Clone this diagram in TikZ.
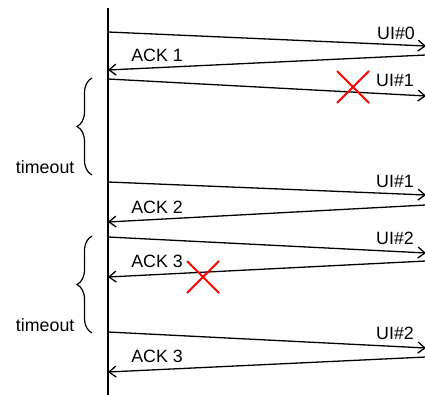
\documentclass[tikz,border=0pt]{standalone}
\usepackage{fontspec}
\setmainfont{Liberation Sans}
\usetikzlibrary{arrows.meta,decorations.pathreplacing,positioning}

\begin{document}
\begin{tikzpicture}[x=1pt,y=-1pt,line width=1.3pt,
  msg/.style={-{Straight Barb[length=7pt,width=11pt]}},
  lbl/.style={inner sep=0pt,font=\fontsize{17.8}{20}\selectfont},
  tbrace/.style={line width=1.2pt,decorate,decoration={brace,amplitude=15pt}},
  lost/.style={red,line width=2pt}]
\useasboundingbox (0,0) rectangle (425,395);

\coordinate (top) at (108,8);
\coordinate (bot) at (108,395);
\draw (top) -- (bot);

\coordinate (s0) at (108,32);  \coordinate (r0) at (426,46);
\coordinate (s1) at (108,70);  \coordinate (r1) at (426,55);
\coordinate (s2) at (108,79);  \coordinate (r2) at (426,96);
\coordinate (s3) at (108,182); \coordinate (r3) at (426,195);
\coordinate (s4) at (108,222); \coordinate (r4) at (426,205);
\coordinate (s5) at (108,237); \coordinate (r5) at (426,253);
\coordinate (s6) at (108,277); \coordinate (r6) at (426,261);
\coordinate (s7) at (108,332); \coordinate (r7) at (426,348);
\coordinate (s8) at (108,372); \coordinate (r8) at (426,357);

\foreach \i in {0,2,3,5,7} {
\draw[msg] (s\i) -- (r\i);
}
\foreach \i in {1,4,6,8} {
\draw[msg] (r\i) -- (s\i);
}

\node (l0) at (396,33) [lbl] {UI\#0};
\node (l1) at (157,55) [lbl] {ACK 1};
\node (l2) at (395,80) [lbl] {UI\#1};
\node (l3) at (395,181) [lbl] {UI\#1};
\node (l4) at (157,207) [lbl] {ACK 2};
\node (l5) at (395,238) [lbl] {UI\#2};
\node (l6) at (157,261) [lbl] {ACK 3};
\node (l7) at (395,333) [lbl] {UI\#2};
\node (l8) at (157,356) [lbl] {ACK 3};

% timeouts
\coordinate (b0) at (92,175);
\coordinate (e0) at (92,78);
\coordinate (b1) at (92,333);
\coordinate (e1) at (92,236);
\draw[tbrace] (b0) -- (e0);
\draw[tbrace] (b1) -- (e1);
\node (w0) at (75,167) [lbl,anchor=east] {timeout};
\node (w1) at (75,325) [lbl,anchor=east] {timeout};

% lost frames
\coordinate (x0) at (353,87);
\coordinate (x1) at (203,277);
\foreach \c in {x0,x1} {
\draw[lost] (\c) ++(-16,-16) -- ++(32,32);
\draw[lost] (\c) ++(-16,16) -- ++(32,-32);
}
\end{tikzpicture}
\end{document}
